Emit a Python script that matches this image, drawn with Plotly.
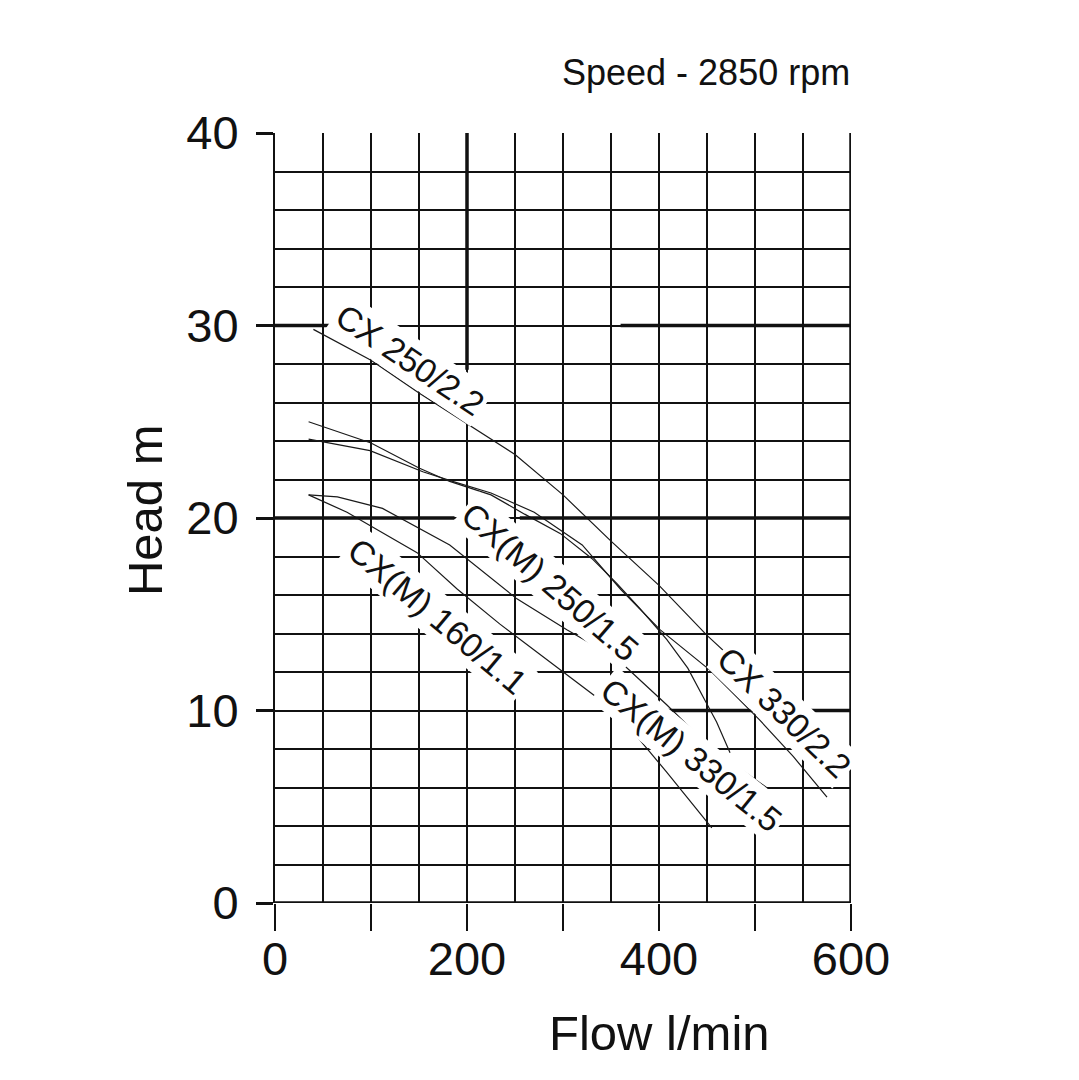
import plotly.graph_objects as go

# ---- data ----
top_x = [40, 100, 150, 200, 250, 300, 350, 400, 450, 500]
top_y = [29.8, 28.2, 26.5, 24.9, 23.3, 21.2, 18.8, 16.5, 13.9, 11.6]

a_x = [35, 100, 150, 182, 225, 260, 297, 330, 356, 380, 408, 430, 446, 460, 474]
a_y = [25.0, 23.9, 22.6, 21.9, 21.2, 20.2, 19.2, 17.9, 16.6, 15.3, 13.7, 12.2, 10.7, 9.4, 7.8]

b_x = [35, 99, 154, 185, 225, 270, 320, 360, 401, 453, 505, 540, 575]
b_y = [24.1, 23.5, 22.4, 21.9, 21.3, 20.3, 18.6, 16.3, 14.2, 12.1, 9.5, 7.6, 5.5]

c_x = [35, 65, 112, 182, 252, 304, 356, 408, 453, 512]
c_y = [21.2, 21.1, 20.5, 18.6, 15.8, 14.2, 12.7, 10.3, 8.1, 6.0]

d_x = [35, 75, 148, 190, 234, 297, 356, 408, 455]
d_y = [21.2, 20.3, 18.2, 16.3, 14.5, 12.1, 9.9, 6.8, 3.9]

curve_labels = ["CX 250/2.2", "CX(M) 250/1.5", "CX(M) 160/1.1", "CX 330/2.2", "CX(M) 330/1.5"]
label_x = [141, 287, 169, 530, 434]
label_y = [28.2, 16.7, 14.9, 9.9, 7.7]
label_angle = [34, 41, 40, 44, 39]

x_ticks = [0, 100, 200, 300, 400, 500, 600]
x_tick_text = ["0", "", "200", "", "400", "", "600"]
y_ticks = [0, 10, 20, 30, 40]

# heavier grid segments seen on the chart: (x0, x1, y0, y1)
heavy_segments = [
    (0, 57, 30, 30), (360, 600, 30, 30),
    (0, 187, 20, 20), (255, 600, 20, 20),
    (406, 505, 10, 10), (555, 600, 10, 10),
    (200, 200, 27.7, 40),
    (600, 600, 0, 40),
    (0, 600, 0, 0),
]

FONT = "Liberation Sans, Arial, sans-serif"
INK = "#111111"

fig = go.Figure()
for xs, ys in [(top_x, top_y), (a_x, a_y), (b_x, b_y), (c_x, c_y), (d_x, d_y)]:
    fig.add_trace(go.Scatter(x=xs, y=ys, mode="lines", line=dict(color="#1a1a1a", width=1.2),
                             showlegend=False, hoverinfo="skip"))

for (x0, x1, y0, y1) in heavy_segments:
    fig.add_shape(type="line", x0=x0, x1=x1, y0=y0, y1=y1, xref="x", yref="y",
                  line=dict(color=INK, width=3.5), layer="above")

for t, x, y, ang in zip(curve_labels, label_x, label_y, label_angle):
    fig.add_annotation(x=x, y=y, text=t, textangle=ang, showarrow=False,
                       font=dict(family=FONT, size=34, color=INK),
                       bgcolor="white", borderpad=2)

fig.add_annotation(xref="paper", yref="paper", x=1.002, y=1.078, xanchor="right", yanchor="middle",
                   text="Speed - 2850 rpm", showarrow=False,
                   font=dict(family=FONT, size=36, color=INK))
fig.add_annotation(xref="paper", yref="paper", x=0.668, y=-0.169, xanchor="center", yanchor="middle",
                   text="Flow l/min", showarrow=False,
                   font=dict(family=FONT, size=49, color=INK))
fig.add_annotation(xref="paper", yref="paper", x=-0.226, y=0.51, xanchor="center", yanchor="middle",
                   text="Head m", textangle=-90, showarrow=False,
                   font=dict(family=FONT, size=49, color=INK))

fig.update_layout(
    width=1079, height=1080,
    margin=dict(l=267, r=236, t=125, b=185),
    paper_bgcolor="white", plot_bgcolor="white",
    font=dict(family=FONT, color=INK),
    xaxis=dict(range=[0, 600], tickvals=x_ticks, ticktext=x_tick_text,
               ticks="outside", ticklen=27, tickwidth=2, tickcolor=INK,
               ticklabelstandoff=-12,
               showgrid=True, gridcolor=INK, gridwidth=2, zeroline=False,
               showline=False, tickfont=dict(size=47, family=FONT, color=INK),
               minor=dict(dtick=50, tick0=0, showgrid=True, gridcolor=INK, gridwidth=2, ticks="")),
    yaxis=dict(range=[0, 40], tickvals=y_ticks, ticks="outside", ticklen=17, tickwidth=2.5,
               tickcolor=INK, showgrid=True, gridcolor=INK, gridwidth=2, zeroline=False,
               ticklabelstandoff=8,
               showline=True, linecolor=INK, linewidth=2,
               tickfont=dict(size=47, family=FONT, color=INK),
               minor=dict(dtick=2, tick0=0, showgrid=True, gridcolor=INK, gridwidth=2, ticks="")),
)

fig.write_html("out.html")
